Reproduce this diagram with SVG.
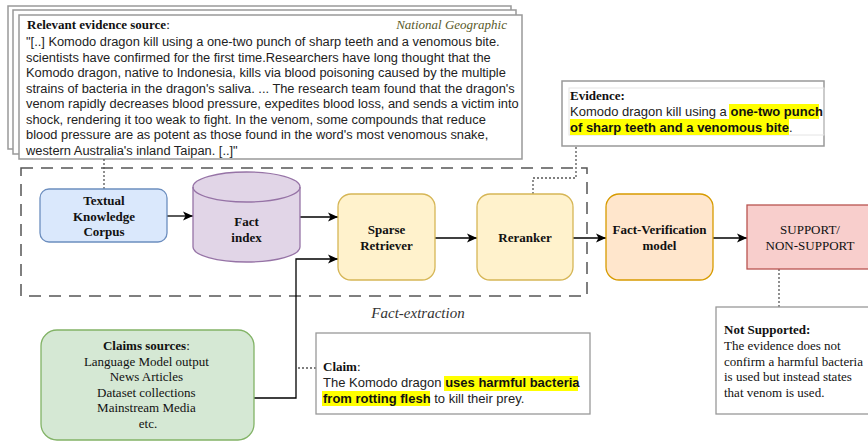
<svg xmlns="http://www.w3.org/2000/svg" width="868" height="441" viewBox="0 0 868 441">
<defs>
<marker id="arr" markerUnits="userSpaceOnUse" markerWidth="10" markerHeight="10" refX="10" refY="5" orient="auto">
<path d="M0,0.5 L10,5 L0,9.5 L2.5,5 Z" fill="#000"/>
</marker>
<style>
.serif{font-family:"Liberation Serif","Times New Roman",serif;}
.sans{font-family:"Liberation Sans",Arial,sans-serif;}
.lbl{font-family:"Liberation Serif","Times New Roman",serif;font-size:13px;font-weight:bold;fill:#111;text-anchor:middle;}
.box{fill:#fff;stroke:#999;stroke-width:1.5;}
.conn{fill:none;stroke:#000;stroke-width:1.3;}
.dot{fill:none;stroke:#555;stroke-width:1.3;stroke-dasharray:2 2;}
.hl{fill:#ffff00;}
.body{font-family:"Liberation Sans",Arial,sans-serif;font-size:12.85px;fill:#222;}
.note{font-family:"Liberation Serif","Times New Roman",serif;font-size:13px;fill:#111;}
</style>
</defs>

<g id="evidence-source">
<rect class="box" x="8" y="6" width="503" height="143"/>
<rect class="box" x="13" y="10" width="503" height="144"/>
<rect class="box" x="19" y="15" width="503" height="144"/>
<text class="note" x="27" y="29"><tspan font-weight="bold">Relevant evidence source</tspan>:</text>
<text class="serif" x="507" y="29" font-size="13" font-style="italic" fill="#5a5a2a" text-anchor="end">National Geographic</text>
<text class="body">
<tspan x="26" y="46">"[..] Komodo dragon kill using a one-two punch of sharp teeth and a venomous bite.</tspan>
<tspan x="26" y="61.5">scientists have confirmed for the first time.Researchers have long thought that the</tspan>
<tspan x="26" y="77">Komodo dragon, native to Indonesia, kills via blood poisoning caused by the multiple</tspan>
<tspan x="26" y="92.5">strains of bacteria in the dragon's saliva. ... The research team found that the dragon's</tspan>
<tspan x="26" y="108">venom rapidly decreases blood pressure, expedites blood loss, and sends a victim into</tspan>
<tspan x="26" y="123.5">shock, rendering it too weak to fight. In the venom, some compounds that reduce</tspan>
<tspan x="26" y="139">blood pressure are as potent as those  found in the word's most venomous snake,</tspan>
<tspan x="26" y="154.5">western Australia's inland Taipan. [..]"</tspan>
</text>
</g>

<g id="fact-extraction">
<rect x="21" y="168" width="566" height="128" fill="none" stroke="#555" stroke-width="1.5" stroke-dasharray="12 8"/>
<text class="serif" x="418" y="318" font-size="15" font-style="italic" fill="#333" text-anchor="middle">Fact-extraction</text>
</g>

<g id="connectors">
<path class="conn" d="M167,216 H193" marker-end="url(#arr)"/>
<path class="conn" d="M300,217 H338" marker-end="url(#arr)"/>
<path class="conn" d="M254,398 H296 V259 H338" stroke="#333" marker-end="url(#arr)"/>
<path class="conn" d="M435,238 H477" marker-end="url(#arr)"/>
<path class="conn" d="M573,238 H606" marker-end="url(#arr)"/>
<path class="conn" d="M713,238 H747" marker-end="url(#arr)"/>
<path class="dot" d="M104,159 V189"/>
<path class="dot" d="M533,194 V178 H576 V146"/>
<path class="dot" d="M779,269 V307"/>
<path class="dot" d="M298,368 H316"/>
</g>

<g id="corpus">
<rect x="40" y="189" width="127" height="53" rx="9" fill="#dae8fc" stroke="#6c8ebf" stroke-width="1.3"/>
<text class="lbl"><tspan x="104" y="205">Textual</tspan><tspan x="104" y="220.5">Knowledge</tspan><tspan x="104" y="236">Corpus</tspan></text>
</g>

<g id="fact-index">
<path d="M193,187 A53.5,15 0 0 1 300,187 V247 A53.5,15 0 0 1 193,247 Z" fill="#e1d5e7" stroke="#9673a6" stroke-width="1.3"/>
<path d="M193,187 A53.5,15 0 0 0 300,187" fill="none" stroke="#9673a6" stroke-width="1.3"/>
<text class="lbl"><tspan x="246.5" y="226">Fact</tspan><tspan x="246.5" y="242">index</tspan></text>
</g>

<g id="sparse-retriever">
<rect x="338" y="194" width="97" height="86" rx="13" fill="#fff2cc" stroke="#d6b656" stroke-width="1.3"/>
<text class="lbl"><tspan x="386.5" y="234">Sparse</tspan><tspan x="386.5" y="249.5">Retriever</tspan></text>
</g>

<g id="reranker">
<rect x="477" y="194" width="96" height="86" rx="13" fill="#fff2cc" stroke="#d6b656" stroke-width="1.3"/>
<text class="lbl" x="525" y="242">Reranker</text>
</g>

<g id="fact-verification">
<rect x="606" y="194" width="107" height="86" rx="13" fill="#ffe6cc" stroke="#d79b00" stroke-width="1.3"/>
<text class="lbl"><tspan x="659.5" y="234">Fact-Verification</tspan><tspan x="659.5" y="249.5">model</tspan></text>
</g>

<g id="support">
<rect x="747" y="205" width="125" height="64" fill="#f8cecc" stroke="#b85450" stroke-width="1.3"/>
<text class="note" text-anchor="middle"><tspan x="810" y="234">SUPPORT/</tspan><tspan x="810" y="249.5">NON-SUPPORT</tspan></text>
</g>

<g id="evidence">
<rect x="562" y="81" width="262" height="65" fill="#fff" stroke="#999" stroke-width="1.5"/>
<rect x="569" y="88" width="255" height="47" fill="none" stroke="#e4e4e4" stroke-width="1"/>
<text class="note" x="570" y="100" font-weight="bold">Evidence:</text>
<rect class="hl" x="729" y="104" width="90" height="15"/>
<rect class="hl" x="570" y="119" width="219" height="16"/>
<text class="sans" font-size="13" fill="#222"><tspan x="570" y="116">Komodo dragon kill using a </tspan><tspan font-weight="bold" fill="#111">one-two punch</tspan></text>
<text class="sans" font-size="13" fill="#222"><tspan x="570" y="132" font-weight="bold" fill="#111">of sharp teeth and a venomous bite</tspan><tspan>.</tspan></text>
</g>

<g id="claims-sources">
<rect x="41" y="330" width="213" height="110" rx="16" fill="#d5e8d4" stroke="#82b366" stroke-width="1.3"/>
<text class="note" text-anchor="middle">
<tspan x="148" y="350"><tspan font-weight="bold">Claims sources</tspan>:</tspan>
<tspan x="148" y="365.5">Language Model output</tspan>
<tspan x="148" y="381">News Articles</tspan>
<tspan x="148" y="396.5">Dataset collections</tspan>
<tspan x="148" y="412">Mainstream Media</tspan>
<tspan x="148" y="427.5">etc.</tspan>
</text>
</g>

<g id="claim">
<rect x="316" y="333" width="274" height="81" fill="#fff" stroke="#999" stroke-width="1.3"/>
<text class="note" x="323" y="371"><tspan font-weight="bold">Claim</tspan>:</text>
<rect class="hl" x="444" y="376" width="134" height="15"/>
<rect class="hl" x="322" y="391" width="108" height="15"/>
<text class="sans" font-size="13" fill="#222"><tspan x="323" y="387">The Komodo dragon </tspan><tspan font-weight="bold" fill="#111">uses harmful bacteria</tspan></text>
<text class="sans" font-size="13" fill="#222"><tspan x="323" y="403" font-weight="bold" fill="#111">from rotting flesh</tspan><tspan> to kill their prey.</tspan></text>
</g>

<g id="not-supported">
<rect x="716" y="307" width="156" height="107" fill="#fff" stroke="#999" stroke-width="1.3"/>
<text class="note">
<tspan x="724" y="334" font-weight="bold">Not Supported:</tspan>
<tspan x="724" y="349.5">The evidence does not</tspan>
<tspan x="724" y="365.5">confirm a harmful bacteria</tspan>
<tspan x="724" y="381">is used but instead states</tspan>
<tspan x="724" y="396.5">that venom is used.</tspan>
</text>
</g>
</svg>
